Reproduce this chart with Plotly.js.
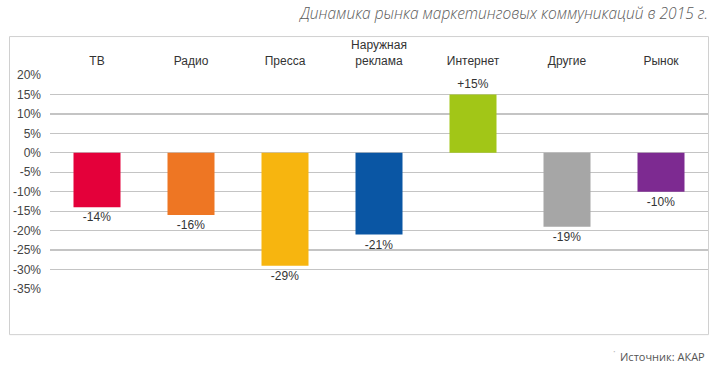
<!DOCTYPE html>
<html><head><meta charset="utf-8">
<script src="https://cdn.plot.ly/plotly-3.0.1.min.js"></script>
<style>html,body{margin:0;padding:0;background:#fff;}#chart{width:718px;height:372px;}</style>
</head><body><div id="chart"></div>
<script>
const categories = ["ТВ", "Радио", "Пресса", "Наружная<br>реклама", "Интернет", "Другие", "Рынок"];
const values = [-14, -16, -29, -21, 15, -19, -10];
const valueLabels = ["-14%", "-16%", "-29%", "-21%", "+15%", "-19%", "-10%"];
const barColors = ["#e4003a", "#ee7623", "#f7b50f", "#0a56a4", "#a2c617", "#a6a6a6", "#7d2a91"];
const yTickVals = [20, 15, 10, 5, 0, -5, -10, -15, -20, -25, -30, -35];
const yTickText = ["20%", "15%", "10%", "5%", "0%", "-5%", "-10%", "-15%", "-20%", "-25%", "-30%", "-35%"];
const titleText = "Динамика рынка маркетинговых коммуникаций в 2015 г.";
const sourceText = "Источник: АКАР";

const trace = {
  type: "bar",
  x: categories,
  y: values,
  marker: {color: barColors},
  text: valueLabels,
  textposition: "outside",
  textfont: {family: "Liberation Sans, Arial, sans-serif", size: 12, color: "#333"},
  cliponaxis: false,
  hoverinfo: "none"
};

const L = 50, R = 708, T = 75, B = 289.3;
const W = R - L, H = B - T;
const px = v => (v - L) / W;
const py = v => (B - v) / H;

const layout = {
  width: 718, height: 372,
  margin: {l: L, r: 718 - R, t: T, b: 372 - B, pad: 0},
  paper_bgcolor: "#fff", plot_bgcolor: "#fff",
  showlegend: false,
  bargap: 0.5,
  font: {family: "Liberation Sans, Arial, sans-serif", size: 12, color: "#444"},
  title: {
    text: titleText,
    xref: "container", yref: "container",
    x: 708 / 718, xanchor: "right",
    y: 1 - 14 / 372, yanchor: "middle",
    font: {family: "Open Sans, sans-serif", size: 15.5, color: "#5a5a5a", style: "italic", weight: 300}
  },
  xaxis: {
    side: "top",
    type: "category",
    showgrid: false, zeroline: false, showline: false,
    ticks: "",
    ticklabelstandoff: 7,
    tickfont: {family: "Liberation Sans, Arial, sans-serif", size: 12, color: "#333"},
    fixedrange: true
  },
  yaxis: {
    range: [-35, 20],
    tickvals: yTickVals,
    ticktext: yTickText,
    showgrid: true, gridcolor: "#c4c4c4", gridwidth: 1.3,
    zeroline: true, zerolinecolor: "#c4c4c4", zerolinewidth: 1.3,
    showline: false, ticks: "",
    ticklabelstandoff: 8,
    tickfont: {family: "Liberation Sans, Arial, sans-serif", size: 12, color: "#444"},
    fixedrange: true
  },
  shapes: [{
    type: "rect", xref: "paper", yref: "paper",
    x0: px(9.5), x1: px(708.5), y0: py(335), y1: py(36.5),
    line: {color: "#d0d0d0", width: 1}, fillcolor: "rgba(0,0,0,0)", layer: "below"
  }],
  annotations: [{
    text: sourceText, xref: "paper", yref: "paper",
    x: px(707), xanchor: "right", y: py(357), yanchor: "middle",
    showarrow: false,
    font: {family: "Open Sans, sans-serif", size: 11, color: "#555"}
  }, {
    text: "·", xref: "paper", yref: "paper",
    x: px(614), xanchor: "center", y: py(351), yanchor: "middle",
    showarrow: false,
    font: {family: "Open Sans, sans-serif", size: 10, color: "#bbb"}
  }]
};

Plotly.newPlot("chart", [trace], layout, {displayModeBar: false, staticPlot: true});
</script>
</body></html>
